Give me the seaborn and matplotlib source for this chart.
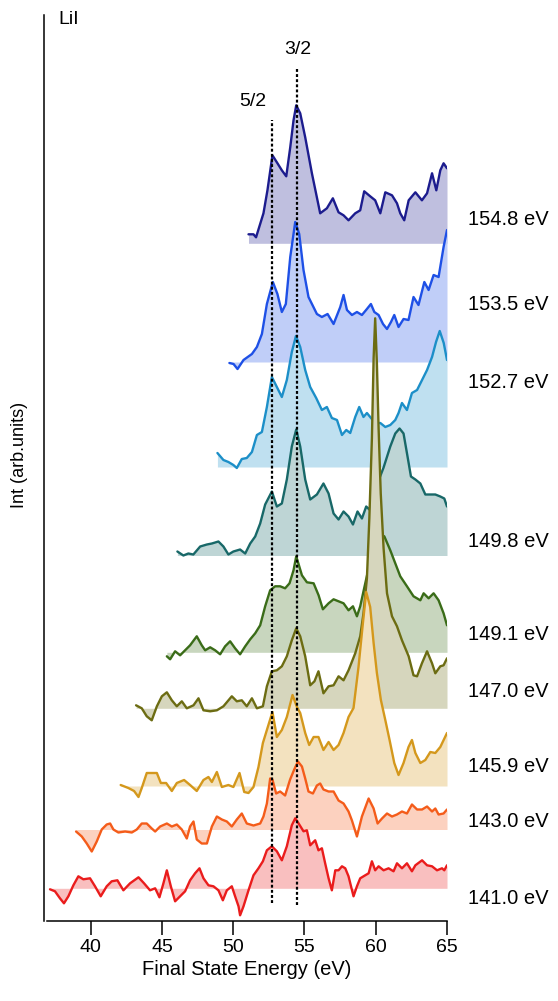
import matplotlib
matplotlib.use("Agg")
import matplotlib.pyplot as plt
import seaborn as sns
import numpy as np
import pandas as pd

# photon energies (labels on the right)
labels = ["154.8 eV", "153.5 eV", "152.7 eV", "149.8 eV", "149.1 eV",
          "147.0 eV", "145.9 eV", "143.0 eV", "141.0 eV"]

# spectra: final state energy (eV) and intensity (arb. units, above own baseline)
e_1548 = [51.07, 51.42, 51.6, 52.12, 52.4, 52.75, 53.06, 53.41, 53.72, 54.0, 54.23, 54.42,
          54.7, 55.05, 55.52, 56.1, 56.57, 56.99, 57.39, 57.74, 58.09, 58.56, 58.91, 59.19,
          59.61, 59.96, 60.32, 60.67, 61.14, 61.49, 61.72, 62.0, 62.31, 62.78, 63.24, 63.6,
          63.95, 64.25, 64.53, 64.76, 65.0]
i_1548 = [9, 9, 6, 30, 53, 88, 81, 73, 67, 96, 123, 138, 130, 106, 70, 30, 35, 45, 31, 28,
          23, 30, 33, 52, 47, 43, 30, 51, 48, 40, 30, 23, 43, 51, 43, 50, 70, 53, 73, 80, 75]

e_1535 = [49.73, 50.02, 50.3, 50.72, 51.31, 51.66, 52.01, 52.36, 52.78, 53.1, 53.41, 53.69,
          54.0, 54.35, 54.63, 54.93, 55.28, 55.87, 56.22, 56.62, 57.04, 57.51, 57.74, 57.98,
          58.33, 58.68, 59.03, 59.38, 59.66, 59.9, 60.2, 60.51, 60.79, 61.07, 61.3, 61.6,
          61.95, 62.3, 62.65, 63.0, 63.41, 63.71, 64.06, 64.41, 64.76, 65.0]
i_1535 = [-1, -2, -7, 2, 8, 15, 28, 58, 80, 68, 50, 58, 105, 140, 128, 92, 65, 48, 45, 48,
          38, 55, 67, 52, 47, 50, 47, 53, 58, 50, 47, 38, 33, 40, 47, 35, 43, 42, 65, 57, 80,
          72, 87, 85, 115, 132]

e_1527 = [48.89, 49.31, 49.66, 50.01, 50.25, 50.6, 50.95, 51.31, 51.66, 52.01, 52.36, 52.71,
          53.06, 53.41, 53.76, 54.11, 54.4, 54.7, 55.05, 55.4, 55.82, 56.22, 56.57, 56.92,
          57.28, 57.63, 57.93, 58.21, 58.56, 58.84, 59.14, 59.38, 59.61, 59.96, 60.32, 60.67,
          61.02, 61.37, 61.6, 61.84, 62.19, 62.54, 62.9, 63.25, 63.6, 63.95, 64.23, 64.49,
          64.77, 65.0]
i_1527 = [14, 7, 5, 2, -1, 8, 9, 15, 32, 35, 60, 90, 80, 70, 87, 115, 131, 120, 97, 80, 69,
          57, 60, 49, 47, 32, 37, 34, 50, 60, 50, 54, 50, 44, 44, 40, 42, 47, 54, 64, 57, 74,
          77, 87, 97, 110, 125, 136, 124, 107]

e_1498 = [46.08, 46.5, 46.85, 47.2, 47.68, 48.15, 48.5, 48.96, 49.31, 49.66, 50.01, 50.48,
          50.84, 51.19, 51.54, 51.89, 52.24, 52.71, 53.06, 53.41, 53.76, 54.11, 54.42, 54.7,
          55.05, 55.4, 55.87, 56.33, 56.69, 57.04, 57.39, 57.74, 58.09, 58.4, 58.72, 59.03,
          59.33, 59.55, 59.85, 60.2, 60.55, 61.02, 61.37, 61.67, 61.95, 62.23, 62.47, 62.78,
          63.13, 63.48, 63.83, 64.18, 64.53, 64.81, 65.0]
i_1498 = [4, 0, 2, 1, 9, 11, 12, 14, 9, 1, 4, 6, 2, 12, 19, 32, 51, 64, 49, 52, 76, 109, 126,
          109, 76, 56, 61, 72, 62, 42, 36, 44, 39, 31, 44, 37, 49, 46, 60, 75, 88, 109, 122,
          127, 122, 99, 79, 76, 72, 61, 61, 61, 59, 57, 49]

e_1491 = [45.34, 45.57, 45.92, 46.27, 46.62, 46.97, 47.44, 47.79, 48.03, 48.38, 48.73, 49.08,
          49.43, 49.78, 50.13, 50.48, 50.84, 51.19, 51.54, 51.89, 52.24, 52.59, 52.94, 53.29,
          53.64, 53.95, 54.23, 54.42, 54.82, 55.17, 55.64, 55.99, 56.29, 56.69, 57.04, 57.39,
          57.74, 58.09, 58.4, 58.68, 58.91, 59.14, 59.42, 59.8, 60.2, 60.6, 61.02, 61.37,
          61.72, 62.19, 62.65, 63.13, 63.36, 63.71, 64.06, 64.41, 64.76, 65.0]
i_1491 = [-4, -7, 1, -3, 2, 7, 16, 7, 2, 5, 2, -2, 6, 11, 4, -2, 6, 13, 19, 27, 46, 62, 66,
          66, 64, 69, 82, 96, 77, 70, 69, 57, 43, 49, 53, 51, 49, 42, 46, 36, 46, 61, 79, 100,
          118, 116, 102, 89, 76, 66, 56, 52, 59, 54, 59, 52, 39, 27]

e_1470 = [43.18, 43.58, 43.93, 44.28, 44.64, 44.99, 45.34, 45.69, 46.04, 46.39, 46.74, 47.21,
          47.56, 47.91, 48.38, 48.85, 49.31, 49.9, 50.25, 50.6, 50.95, 51.31, 51.66, 52.08,
          52.36, 52.71, 53.06, 53.41, 53.76, 54.11, 54.42, 54.7, 55.05, 55.4, 55.7, 55.98,
          56.33, 56.69, 57.04, 57.39, 57.74, 58.09, 58.56, 58.91, 59.14, 59.38, 59.55, 59.73,
          59.85, 59.96, 60.08, 60.2, 60.35, 60.55, 60.79, 61.14, 61.49, 61.84, 62.31, 62.65,
          62.9, 63.24, 63.6, 63.95, 64.18, 64.53, 64.76, 65.0]
i_1470 = [3, 0, -8, -12, 2, 12, 16, 8, 2, 7, 0, 3, 10, -2, -3, -2, 2, 12, 7, 8, 2, 10, 0, 2,
          22, 37, 38, 42, 52, 68, 80, 72, 52, 23, 27, 37, 15, 22, 23, 32, 28, 38, 55, 72, 95,
          130, 190, 270, 350, 390, 345, 280, 215, 160, 115, 92, 82, 68, 52, 33, 32, 45, 57,
          45, 35, 42, 43, 50]

e_1459 = [42.1, 42.64, 43.04, 43.35, 43.58, 43.93, 44.28, 44.64, 44.92, 45.29, 45.69, 46.04,
          46.55, 46.97, 47.44, 47.91, 48.26, 48.5, 48.85, 49.2, 49.66, 50.01, 50.44, 50.77,
          51.07, 51.42, 51.77, 52.08, 52.36, 52.75, 53.06, 53.41, 53.76, 54.16, 54.47, 54.7,
          55.05, 55.33, 55.64, 55.98, 56.33, 56.69, 57.04, 57.39, 57.74, 58.09, 58.44, 58.79,
          59.07, 59.33, 59.61, 59.85, 60.08, 60.36, 60.67, 60.97, 61.3, 61.6, 61.95, 62.3,
          62.54, 62.78, 63.13, 63.48, 63.83, 64.18, 64.53, 65.0]
i_1459 = [1, -2, -5, -11, -2, 13, 13, 13, 3, 3, -5, 3, 6, 1, -5, 6, 9, 4, 14, -1, 1, -1, 13,
          -6, -7, -1, 19, 43, 56, 74, 49, 56, 69, 91, 79, 73, 53, 41, 49, 49, 36, 44, 36, 41,
          53, 69, 78, 119, 159, 194, 179, 143, 113, 86, 66, 46, 23, 11, 23, 39, 46, 33, 23,
          26, 34, 33, 39, 53]

e_1430 = [38.97, 39.37, 39.72, 40.07, 40.42, 40.77, 41.12, 41.36, 41.59, 41.94, 42.41, 42.88,
          43.23, 43.58, 43.93, 44.28, 44.52, 44.87, 45.34, 45.69, 46.04, 46.39, 46.74, 46.97,
          47.21, 47.44, 47.79, 48.15, 48.5, 48.85, 49.2, 49.55, 49.9, 50.25, 50.6, 50.95,
          51.42, 51.89, 52.12, 52.36, 52.59, 52.75, 53.01, 53.29, 53.64, 53.99, 54.28, 54.54,
          54.82, 55.05, 55.28, 55.59, 55.87, 56.1, 56.33, 56.69, 57.04, 57.39, 57.74, 58.09,
          58.33, 58.68, 59.03, 59.5, 59.85, 60.13, 60.44, 60.79, 61.14, 61.49, 61.84, 62.19,
          62.54, 62.9, 63.25, 63.6, 63.95, 64.18, 64.41, 64.76, 65.0]
i_1430 = [-2, -7, -14, -22, -12, 0, 5, 6, 0, -3, -2, -3, 0, 6, 6, 1, -2, 3, 6, 3, 5, 0, -9,
          3, 8, -10, -14, -14, 3, 13, 10, 8, 3, 10, 16, 6, 4, 6, 13, 26, 51, 50, 36, 38, 34,
          50, 60, 68, 63, 51, 38, 36, 44, 46, 40, 38, 38, 29, 26, 18, 9, -7, 13, 31, 21, 6,
          11, 16, 13, 15, 18, 16, 25, 20, 20, 23, 18, 21, 15, 16, 20]

e_1410 = [37.14, 37.49, 37.84, 38.12, 38.43, 38.78, 39.13, 39.48, 39.95, 40.3, 40.7, 41.12,
          41.47, 41.87, 42.29, 42.76, 43.35, 43.74, 44.16, 44.52, 44.82, 45.1, 45.34, 45.62,
          45.92, 46.27, 46.62, 46.97, 47.32, 47.63, 47.91, 48.26, 48.61, 48.96, 49.27, 49.55,
          49.9, 50.13, 50.37, 50.48, 50.72, 51.07, 51.42, 51.77, 52.08, 52.36, 52.71, 53.06,
          53.41, 53.76, 54.11, 54.35, 54.58, 54.93, 55.17, 55.4, 55.75, 55.98, 56.22, 56.45,
          56.69, 56.92, 57.16, 57.39, 57.63, 57.86, 58.09, 58.44, 58.68, 58.91, 59.26, 59.5,
          59.73, 59.96, 60.2, 60.55, 60.9, 61.25, 61.49, 61.84, 62.19, 62.54, 62.78, 63.25,
          63.6, 63.95, 64.3, 64.65, 64.81, 65.0]
i_1410 = [-1, -3, -10, -15, -8, 3, 12, 9, 10, 2, -8, 2, 7, 8, -2, 5, 11, 5, -2, 0, -9, 5, 18,
          2, -13, -8, -3, 8, 15, 20, 10, 3, 2, -2, -12, -2, 2, -8, -18, -27, -18, -2, 13, 20,
          27, 38, 42, 37, 28, 42, 63, 70, 65, 57, 58, 43, 48, 38, 40, 25, 10, -2, 18, 18, 22,
          20, 12, -8, 2, 10, 13, 15, 27, 18, 22, 18, 20, 17, 25, 20, 25, 17, 23, 28, 23, 22,
          18, 20, 18, 23]

energies = [e_1548, e_1535, e_1527, e_1498, e_1491, e_1470, e_1459, e_1430, e_1410]
intens = [i_1548, i_1535, i_1527, i_1498, i_1491, i_1470, i_1459, i_1430, i_1410]

# vertical offset of each trace (waterfall)
offsets = [677.7, 559, 454, 365.5, 268.7, 212.7, 135, 91.5, 32.7]
label_shift = [24, 58, 85, 14, 18, 17, 20, 8, -10]

line_colors = ["#1c1c8e", "#1e50e6", "#1c8fc8", "#186868", "#3a6c18",
               "#6c6c12", "#d4981c", "#f45c1a", "#ea1c1c"]

# spin-orbit components
peak_pos = [52.7, 54.5]
peak_names = ["5/2", "3/2"]


def light(c, a=0.28):
    rgb = np.array(matplotlib.colors.to_rgb(c))
    return tuple(a * rgb + (1 - a))


sns.set_style("ticks")
plt.rcParams["font.family"] = ["Liberation Sans", "DejaVu Sans"]
plt.rcParams["text.color"] = "black"
plt.rcParams["axes.labelcolor"] = "black"
plt.rcParams["xtick.color"] = "black"
plt.rcParams["axes.edgecolor"] = "black"

fig = plt.figure(figsize=(5.58, 10.01), dpi=100)
ax = fig.add_axes([47 / 558, 80 / 1001, 400 / 558, 906 / 1001])

for k, (e, v) in enumerate(zip(energies, intens)):
    df = pd.DataFrame({"E": e, "I": np.array(v) + offsets[k]})
    ax.fill_between(df["E"], offsets[k], df["I"], color=light(line_colors[k]),
                    lw=0, zorder=2 * k + 1)
    sns.lineplot(data=df, x="E", y="I", sort=False, color=line_colors[k], lw=1.7,
                 ax=ax, zorder=2 * k + 2, solid_joinstyle="round", solid_capstyle="round")
    ax.text(66.5, offsets[k] + label_shift[k], labels[k], fontsize=14.5,
            ha="left", va="center", clip_on=False)

# dashed markers for 5/2 and 3/2
ax.plot([peak_pos[0]] * 2, [18, 801], color="black", lw=1.6,
        ls=(0, (1.3, 1.0)), zorder=50)
ax.plot([peak_pos[1]] * 2, [16, 853], color="black", lw=1.6,
        ls=(0, (1.3, 1.0)), zorder=50)
ax.text(peak_pos[0] - 0.35, 820, peak_names[0], fontsize=14, ha="right", va="center")
ax.text(peak_pos[1], 871, peak_names[1], fontsize=14, ha="center", va="center")
ax.text(37.7, 901, "LiI", fontsize=14, ha="left", va="center")

ax.set_xlim(36.93, 65)
ax.set_ylim(0, 906)
ax.set_xticks([40, 45, 50, 55, 60, 65])
ax.set_yticks([])
ax.set_xlabel("Final State Energy (eV)", fontsize=14.5, labelpad=3)
ax.set_ylabel("")
fig.text(20 / 558, 1 - 455 / 1001, "Int (arb.units)", rotation=90, fontsize=13,
         ha="center", va="center")
ax.tick_params(axis="x", direction="out", length=10, width=1.1, labelsize=14, pad=3)
sns.despine(ax=ax)
ax.spines["left"].set_position(("outward", 2))
for s in ["left", "bottom"]:
    ax.spines[s].set_linewidth(1.1)
ax.set_facecolor("white")

fig.savefig("out.png", dpi=100)
